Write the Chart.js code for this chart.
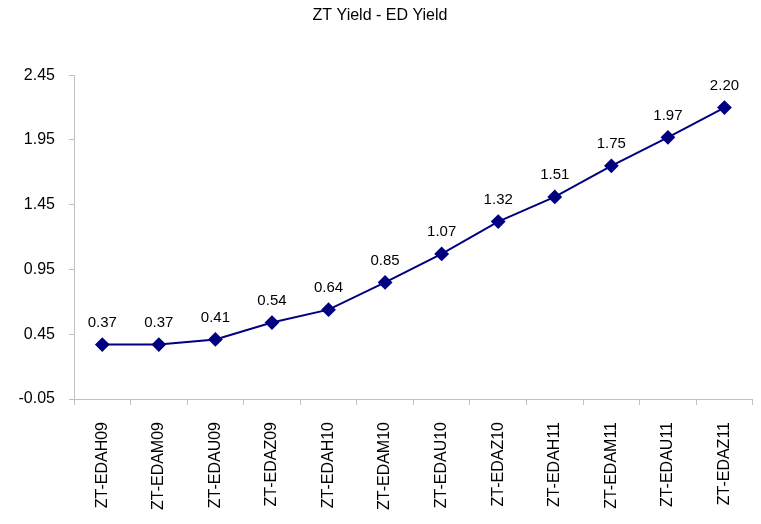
<!DOCTYPE html>
<html>
<head>
<meta charset="utf-8">
<script src="https://cdn.jsdelivr.net/npm/chart.js@4/dist/chart.umd.min.js"></script>
<style>
  html, body { margin: 0; padding: 0; background: #fff; }
  #wrap { width: 761px; height: 524px; }
</style>
</head>
<body>
<div id="wrap"><canvas id="c" width="761" height="524"></canvas></div>
<script>
const categories = ["ZT-EDAH09", "ZT-EDAM09", "ZT-EDAU09", "ZT-EDAZ09", "ZT-EDAH10", "ZT-EDAM10",
                    "ZT-EDAU10", "ZT-EDAZ10", "ZT-EDAH11", "ZT-EDAM11", "ZT-EDAU11", "ZT-EDAZ11"];
const spreadValues = [0.37, 0.37, 0.41, 0.54, 0.64, 0.85, 1.07, 1.32, 1.51, 1.75, 1.97, 2.20];
const yTicks = [-0.05, 0.45, 0.95, 1.45, 1.95, 2.45];

const FONT = "'Liberation Sans', Arial, sans-serif";

// Writes each point's value above its marker
const valueLabels = {
  id: 'valueLabels',
  afterDatasetsDraw(chart) {
    const ctx = chart.ctx;
    const meta = chart.getDatasetMeta(0);
    ctx.save();
    ctx.font = "15px " + FONT;
    ctx.fillStyle = "#000";
    ctx.textAlign = "center";
    ctx.textBaseline = "middle";
    meta.data.forEach((pt, i) => {
      ctx.fillText(spreadValues[i].toFixed(2), pt.x, pt.y - 22);
    });
    ctx.restore();
  }
};

new Chart(document.getElementById('c'), {
  type: 'line',
  data: {
    labels: categories,
    datasets: [{
      data: spreadValues,
      borderColor: '#000080',
      backgroundColor: '#000080',
      borderWidth: 2,
      pointStyle: 'rectRot',
      pointRadius: 6,
      pointHoverRadius: 6,
      tension: 0
    }]
  },
  options: {
    responsive: false,
    animation: false,
    events: [],
    layout: { padding: { top: 0, right: 1, left: 0, bottom: 0 } },
    plugins: {
      legend: { display: false },
      tooltip: { enabled: false },
      title: {
        display: true,
        text: 'ZT Yield - ED Yield',
        color: '#000',
        font: { family: FONT, size: 16, weight: 'normal' },
        padding: { top: 6, bottom: 50 }
      }
    },
    scales: {
      x: {
        offset: true,
        grid: {
          offset: true,
          drawOnChartArea: false,
          drawTicks: true,
          tickLength: 6,
          color: '#c0c0c0'
        },
        border: { color: '#c0c0c0', width: 1 },
        ticks: {
          color: '#000',
          font: { family: FONT, size: 16 },
          minRotation: 90,
          maxRotation: 90,
          autoSkip: false,
          padding: 17
        },
        afterFit(scale) { scale.height = 125; }
      },
      y: {
        min: -0.05,
        max: 2.45,
        afterBuildTicks(scale) { scale.ticks = yTicks.map(v => ({ value: v })); },
        grid: {
          drawOnChartArea: false,
          drawTicks: true,
          tickLength: 5,
          color: '#c0c0c0'
        },
        border: { color: '#c0c0c0', width: 1 },
        ticks: {
          color: '#000',
          font: { family: FONT, size: 16 },
          padding: 14,
          callback: (v) => Number(v).toFixed(2)
        },
        afterFit(scale) { scale.width = 74; }
      }
    }
  },
  plugins: [valueLabels]
});
</script>
</body>
</html>
